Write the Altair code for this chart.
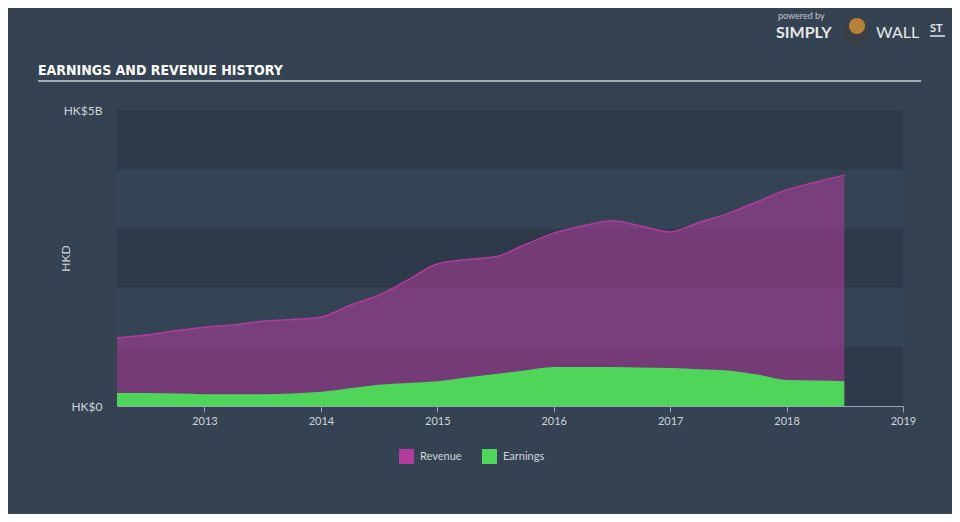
import altair as alt
import pandas as pd

# ---- data (HK$ billions) ----
quarters = [
    "2012-03-31", "2012-06-30", "2012-09-30", "2012-12-31",
    "2013-03-31", "2013-06-30", "2013-09-30", "2013-12-31",
    "2014-03-31", "2014-06-30", "2014-09-30", "2014-12-31",
    "2015-03-31", "2015-06-30", "2015-09-30", "2015-12-31",
    "2016-03-31", "2016-06-30", "2016-09-30", "2016-12-31",
    "2017-03-31", "2017-06-30", "2017-09-30", "2017-12-31",
    "2018-03-31", "2018-06-30",
]
revenue_b = [1.15, 1.20, 1.27, 1.33, 1.37, 1.43, 1.46, 1.50,
             1.70, 1.87, 2.13, 2.40, 2.47, 2.52, 2.72, 2.92,
             3.04, 3.13, 3.04, 2.94, 3.10, 3.25, 3.45, 3.65,
             3.78, 3.90]
earnings_b = [0.22, 0.22, 0.21, 0.20, 0.20, 0.20, 0.21, 0.24,
              0.30, 0.36, 0.39, 0.42, 0.48, 0.54, 0.60, 0.66,
              0.66, 0.66, 0.65, 0.64, 0.62, 0.60, 0.53, 0.44,
              0.43, 0.42]
series_names = ["Revenue", "Earnings"]
series_colors = ["#b13c9d", "#4fd65a"]
year_ticks = [2013, 2014, 2015, 2016, 2017, 2018, 2019]
y_ticks = [0, 5]
band_lo = [0, 1, 2, 3, 4]
band_hi = [1, 2, 3, 4, 5]
band_shade = ["dark", "light", "dark", "light", "dark"]

# ---- derived tables ----
d = pd.to_datetime(pd.Series(quarters))
frac = d.dt.year + d.dt.dayofyear / (365 + d.dt.is_leap_year.astype(int))
rev = pd.DataFrame({"t": frac, "v": revenue_b, "series": "Revenue"})
ern = pd.DataFrame({"t": frac, "v": earnings_b, "series": "Earnings"})
bands = pd.DataFrame({"lo": band_lo, "hi": band_hi, "shade": band_shade})

W, H = 786, 296
x_dom = [float(frac.iloc[0]), 2019.0]

x_scale = alt.Scale(domain=x_dom, nice=False, zero=False)
y_scale = alt.Scale(domain=[0, 5], nice=False)
color_scale = alt.Scale(domain=series_names, range=series_colors)

y_axis = alt.Axis(values=y_ticks, grid=False, domain=False, ticks=False,
                  labelExpr="datum.value == 0 ? 'HK$0' : 'HK$' + datum.value + 'B'",
                  labelColor="#d0d4da", labelFontSize=12, labelPadding=15,
                  labelFont="Lato",
                  title="HKD", titleColor="#d0d4da", titleFontSize=12,
                  titleFontWeight="normal", titleFont="Lato",
                  titleX=-52, titleY=148, titleAngle=-90,
                  titleAlign="center", titleBaseline="middle")
x_axis = alt.Axis(values=year_ticks, format="d", title=None, grid=False,
                  domainColor="#9aa4b0", tickColor="#9aa4b0", tickSize=6,
                  labelColor="#d0d4da", labelFontSize=11, labelPadding=3,
                  labelFont="Lato", labelFlush=False)

band_layer = alt.Chart(bands).mark_rect().encode(
    x=alt.value(0), x2=alt.value(W),
    y=alt.Y("lo:Q", scale=y_scale, axis=y_axis),
    y2="hi:Q",
    color=alt.Color("shade:N", scale=alt.Scale(domain=["dark", "light"],
                                               range=["#2e3a49", "#354454"]), legend=None),
)

rev_area = alt.Chart(rev).mark_area(interpolate="monotone", fillOpacity=0.55).encode(
    x=alt.X("t:Q", scale=x_scale, axis=x_axis),
    y=alt.Y("v:Q", scale=y_scale, axis=y_axis),
    fill=alt.Fill("series:N", scale=color_scale,
                  legend=alt.Legend(title=None, orient="none", direction="horizontal",
                                    legendX=282, legendY=339, symbolType="square",
                                    symbolSize=225, symbolOpacity=1, symbolStrokeWidth=0,
                                    labelColor="#d0d4da", labelFontSize=11, labelFont="Lato",
                                    labelOffset=6, columnPadding=20)),
)

rev_line = alt.Chart(rev).mark_line(interpolate="monotone", color="#b13c9d",
                                    strokeWidth=1.5).encode(
    x=alt.X("t:Q", scale=x_scale),
    y=alt.Y("v:Q", scale=y_scale),
)

ern_area = alt.Chart(ern).mark_area(interpolate="monotone", opacity=1).encode(
    x=alt.X("t:Q", scale=x_scale),
    y=alt.Y("v:Q", scale=y_scale),
    fill=alt.Fill("series:N", scale=color_scale),
)

one = pd.DataFrame({"a": [0]})

title = alt.Chart(one).mark_text(
    text="EARNINGS AND REVENUE HISTORY", align="left", baseline="alphabetic",
    font="DejaVu Sans Condensed, DejaVu Sans, sans-serif", fontWeight="bold",
    fontSize=14, color="#ffffff",
).encode(x=alt.value(38 - 117), y=alt.value(75 - 110))

title_rule = alt.Chart(one).mark_rule(color="#a3abb5", strokeWidth=2).encode(
    x=alt.value(38 - 117), x2=alt.value(921 - 117), y=alt.value(81 - 110))

powered = alt.Chart(one).mark_text(
    text="powered by", align="left", baseline="middle", font="Lato",
    fontSize=9, color="#c4c9cf",
).encode(x=alt.value(778 - 117), y=alt.value(16 - 110))

simply = alt.Chart(one).mark_text(
    text="SIMPLY", align="left", baseline="middle", font="Lato", fontWeight="bold",
    fontSize=16, color="#e6e8eb",
).encode(x=alt.value(776 - 117), y=alt.value(33 - 110))

bull = alt.Chart(one).mark_point(filled=True, shape="circle", size=800,
                                 color="#3a3f47", opacity=1).encode(
    x=alt.value(857 - 117), y=alt.value(32 - 110))
bull_face = alt.Chart(one).mark_point(filled=True, shape="circle", size=260,
                                      color="#b5823a", opacity=1).encode(
    x=alt.value(857 - 117), y=alt.value(26 - 110))

wall = alt.Chart(one).mark_text(
    text="WALL", align="left", baseline="middle", font="Lato",
    fontSize=16, color="#e6e8eb",
).encode(x=alt.value(876 - 117), y=alt.value(33 - 110))

st = alt.Chart(one).mark_text(
    text="ST", align="left", baseline="middle", font="Lato", fontWeight="bold",
    fontSize=11, color="#e6e8eb",
).encode(x=alt.value(930 - 117), y=alt.value(29 - 110))

st_rule = alt.Chart(one).mark_rule(color="#e6e8eb", strokeWidth=1.5).encode(
    x=alt.value(930 - 117), x2=alt.value(945 - 117), y=alt.value(36 - 110))

chart = alt.layer(
    band_layer, rev_area, rev_line, ern_area,
    title, title_rule, powered, simply, bull, bull_face, wall, st, st_rule,
).resolve_scale(color="independent", fill="shared").properties(
    width=W, height=H,
    autosize=alt.AutoSizeParams(type="none"),
    padding={"left": 109, "top": 102, "right": 49, "bottom": 108},
    background="#344252",
).configure_view(stroke=None)

chart.save("out.html", embed_options={"renderer": "svg", "actions": False})
